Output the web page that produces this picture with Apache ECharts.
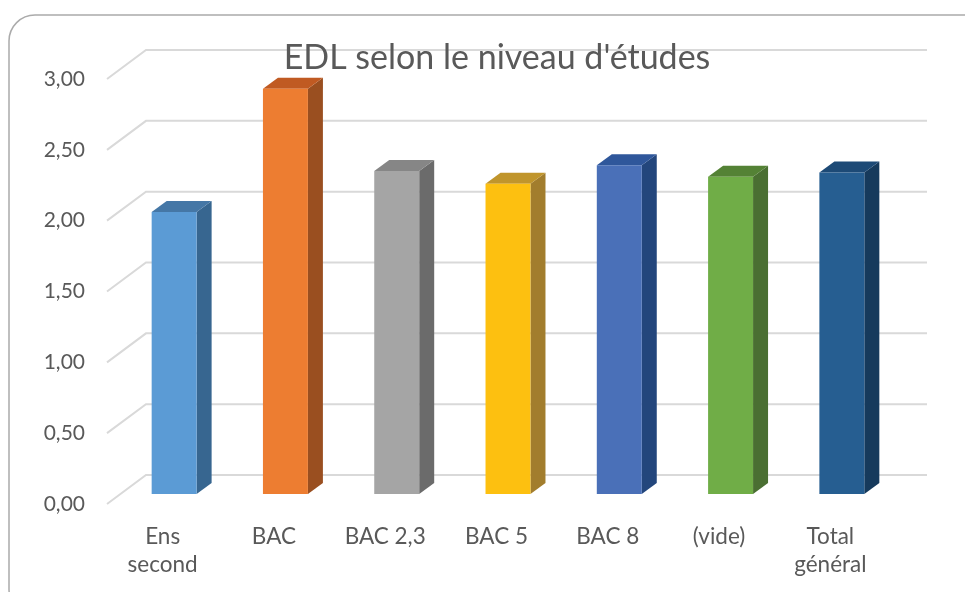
<!DOCTYPE html>
<html>
<head>
<meta charset="utf-8">
<script src="https://cdn.jsdelivr.net/npm/echarts@6/dist/echarts.min.js"></script>
<style>
* {
  margin: 0;
  padding: 0;
}
#chart-container {
  position: relative;
  width: 965px;
  height: 592px;
  overflow: hidden;
  background: #fff;
}
</style>
</head>
<body>
<div id="chart-container"></div>
<script>
const categories = ['Ens\nsecond', 'BAC', 'BAC 2,3', 'BAC 5', 'BAC 8', '(vide)', 'Total\ngénéral']
const values = [1.99, 2.86, 2.28, 2.19, 2.32, 2.24, 2.27]
const yTicks = [0, 0.5, 1, 1.5, 2, 2.5, 3]

const frontColors = ['#5b9bd5', '#ed7d31', '#a5a5a5', '#fdc010', '#4a70b8', '#70ad47', '#265e91']
const sideColors = ['#376690', '#9a4f20', '#6b6b6b', '#a27d2d', '#23467c', '#4a6f32', '#163a5c']
const topColors = ['#4577a6', '#c05a22', '#868686', '#c0952c', '#2f579b', '#548235', '#1d4a76']

// fake depth for the 3D look
const DEPTH_X = 39
const DEPTH_Y = 29
const BAR_SHIFT_X = 11.5
const BAR_SHIFT_Y = 10
const SIDE_X = 15
const SIDE_Y = 11

const chartDom = document.getElementById('chart-container')
const myChart = echarts.init(chartDom)

const fmt = (v) => v.toFixed(2).replace('.', ',')

const option = {
  animation: false,
  title: {
    text: 'EDL selon le niveau d\'études',
    left: 492,
    top: 36,
    textAlign: 'center',
    textStyle: {
      fontFamily: 'Lato',
      fontSize: 34,
      fontWeight: 'normal',
      color: '#595959'
    }
  },
  graphic: [
    {
      type: 'rect',
      z: -10,
      shape: { x: 9, y: 15, width: 985, height: 600, r: 26 },
      style: { fill: 'none', stroke: '#ababab', lineWidth: 1.5 }
    }
  ],
  grid: {
    left: 107,
    right: 79,
    top: 79,
    bottom: 88
  },
  xAxis: {
    type: 'category',
    data: categories,
    axisLine: { show: false },
    axisTick: { show: false },
    splitLine: { show: false },
    axisLabel: {
      interval: 0,
      margin: 19,
      fontFamily: 'Lato',
      fontSize: 22.5,
      lineHeight: 28,
      color: '#595959'
    }
  },
  yAxis: {
    type: 'value',
    min: 0,
    max: 3,
    interval: 0.5,
    axisLine: { show: false },
    axisTick: { show: false },
    splitLine: { show: false },
    axisLabel: {
      margin: 22,
      fontFamily: 'Lato',
      fontSize: 21,
      color: '#595959',
      formatter: fmt
    }
  },
  series: [
    {
      name: 'grille',
      type: 'custom',
      z: 1,
      silent: true,
      data: yTicks.map((t) => [0, t]),
      encode: { x: 0, y: 1 },
      renderItem: (params, api) => {
        const cs = params.coordSys
        const y = api.coord([0, api.value(1)])[1]
        return {
          type: 'polyline',
          shape: {
            points: [
              [cs.x, y],
              [cs.x + DEPTH_X, y - DEPTH_Y],
              [cs.x + cs.width + 41, y - DEPTH_Y]
            ]
          },
          style: { fill: 'none', stroke: '#d9d9d9', lineWidth: 2 }
        }
      }
    },
    {
      name: 'EDL',
      type: 'custom',
      z: 2,
      data: values.map((v, i) => [i, v]),
      encode: { x: 0, y: 1 },
      renderItem: (params, api) => {
        const i = api.value(0)
        const top = api.coord([i, api.value(1)])
        const base = api.coord([i, 0])
        const band = api.size([1, 0])[0]
        const w = band * 0.404
        const cx = top[0] + BAR_SHIFT_X
        const x0 = cx - w / 2
        const x1 = cx + w / 2
        const yb = base[1] - BAR_SHIFT_Y
        const yt = top[1] - BAR_SHIFT_Y
        return {
          type: 'group',
          children: [
            {
              type: 'polygon',
              shape: { points: [[x1, yt], [x1 + SIDE_X, yt - SIDE_Y], [x1 + SIDE_X, yb - SIDE_Y], [x1, yb]] },
              style: { fill: sideColors[i] }
            },
            {
              type: 'polygon',
              shape: { points: [[x0, yt], [x1, yt], [x1 + SIDE_X, yt - SIDE_Y], [x0 + SIDE_X, yt - SIDE_Y]] },
              style: { fill: topColors[i] }
            },
            {
              type: 'rect',
              shape: { x: x0, y: yt, width: w, height: yb - yt },
              style: { fill: frontColors[i] }
            }
          ]
        }
      }
    }
  ]
}

myChart.setOption(option)
</script>
</body>
</html>
